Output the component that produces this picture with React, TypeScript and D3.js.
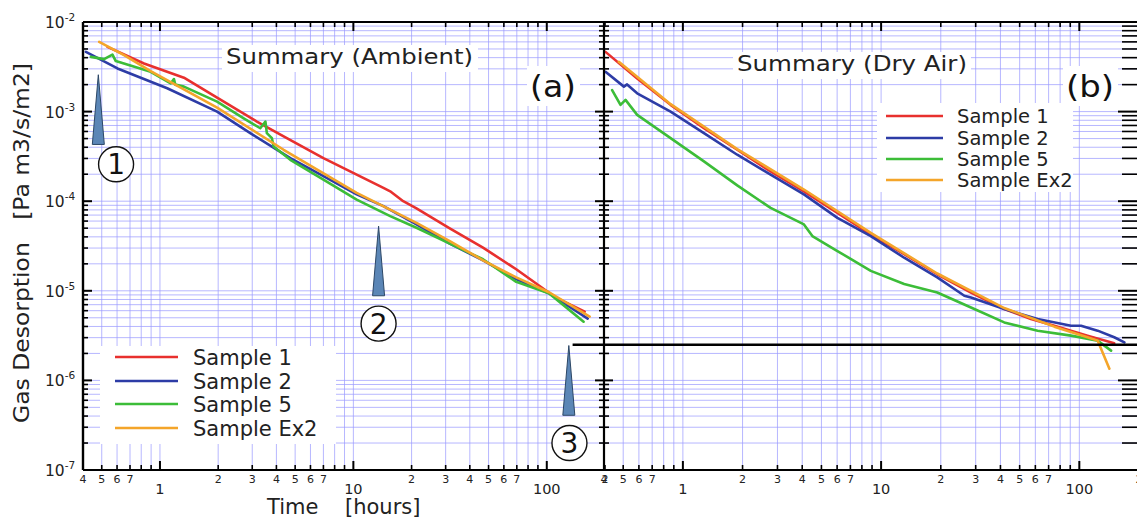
import React from "react";
import * as d3 from "d3";

type Pt = [number, number];

// ---------- DATA (hours, Pa m3/s/m2) ----------
const ambientSample1: Pt[] = [
  [0.535, 5.28e-3], [0.827, 3.44e-3], [1.33, 2.39e-3], [1.974, 1.43e-3], [3.17, 7.74e-4],
  [4.36, 5.28e-4], [7.0, 3.03e-4], [9.62, 2.15e-4], [14.3, 1.41e-4], [15.5, 1.29e-4],
  [18.1, 1.0e-4], [21.2, 8.3e-5], [31.5, 4.97e-5], [46.8, 3.03e-5], [69.5, 1.74e-5],
  [111.7, 8.36e-6], [157, 5.84e-6],
];
const ambientSample2: Pt[] = [
  [0.414, 4.64e-3], [0.603, 3.03e-3], [1.09, 1.82e-3], [1.974, 1.0e-3], [2.93, 5.74e-4],
  [4.72, 3.03e-4], [7.0, 1.9e-4], [10.4, 1.19e-4], [14.3, 8.8e-5], [21.2, 5.51e-5],
  [31.5, 3.36e-5], [46.8, 2.19e-5], [69.5, 1.35e-5], [103.3, 9.3e-6], [162.7, 4.89e-6],
];
const ambientSample5: Pt[] = [
  [0.439, 4.08e-3], [0.514, 3.85e-3], [0.568, 4.33e-3], [0.591, 3.66e-3], [0.895, 2.78e-3],
  [1.136, 2.06e-3], [1.181, 2.31e-3], [1.2, 2.0e-3], [1.33, 1.9e-3], [1.974, 1.29e-3],
  [2.71, 8.42e-4], [3.3, 6.52e-4], [3.51, 7.74e-4], [3.57, 5.74e-4], [3.79, 5.05e-4],
  [3.87, 4.08e-4], [4.72, 2.9e-4], [7.0, 1.74e-4], [10.4, 1.04e-4], [15.5, 6.81e-5],
  [21.2, 5.05e-5], [31.5, 3.36e-5], [46.8, 2.25e-5], [69.5, 1.26e-5], [103.3, 9.3e-6],
  [155, 4.52e-6],
];
const ambientSampleEx2: Pt[] = [
  [0.485, 6.0e-3], [0.652, 4.27e-3], [0.895, 2.83e-3], [1.974, 1.11e-3], [4.36, 3.75e-4],
  [10.4, 1.24e-4], [21.2, 5.74e-5], [31.5, 3.59e-5], [46.8, 2.19e-5], [69.5, 1.41e-5],
  [103.3, 9.57e-6], [166.6, 5.14e-6],
];

const drySample1: Pt[] = [
  [0.407, 4.64e-3], [0.588, 2.34e-3], [0.867, 1.19e-3], [1.277, 6.52e-4], [1.88, 3.75e-4],
  [2.77, 2.15e-4], [4.08, 1.29e-4], [6.02, 7.41e-5], [8.87, 4.27e-5], [13.07, 2.56e-5],
  [19.2, 1.53e-5], [28.4, 9.57e-6], [41.8, 6.26e-6], [57.0, 4.85e-6], [74.8, 4.08e-6],
  [110, 3.16e-6], [150, 2.6e-6],
];
const drySample2: Pt[] = [
  [0.407, 2.78e-3], [0.504, 1.9e-3], [0.523, 2.01e-3], [0.588, 1.6e-3], [0.867, 1.0e-3],
  [1.277, 5.74e-4], [1.88, 3.3e-4], [2.77, 1.98e-4], [4.08, 1.19e-4], [6.02, 6.52e-5],
  [8.87, 4.08e-5], [13.07, 2.34e-5], [19.2, 1.41e-5], [26.3, 8.8e-6], [28.4, 8.42e-6],
  [41.8, 6.26e-6], [61.6, 4.85e-6], [90.8, 4.08e-6], [102, 4.08e-6], [123.7, 3.59e-6],
  [150, 3.03e-6], [168.8, 2.66e-6],
];
const drySample5: Pt[] = [
  [0.4395, 1.74e-3], [0.4845, 1.19e-3], [0.5136, 1.35e-3], [0.588, 9.19e-4], [0.867, 5.05e-4],
  [1.277, 2.78e-4], [1.88, 1.5e-4], [2.77, 8.42e-5], [4.08, 5.51e-5], [4.5, 4.08e-5],
  [6.02, 2.78e-5], [8.87, 1.67e-5], [13.07, 1.19e-5], [19.2, 9.57e-6], [28.4, 6.52e-6],
  [41.8, 4.44e-6], [61.6, 3.59e-6], [90.8, 3.16e-6], [123.7, 2.78e-6], [144.6, 2.15e-6],
];
const drySampleEx2: Pt[] = [
  [0.475, 3.59e-3], [0.867, 1.21e-3], [1.88, 3.81e-4], [4.08, 1.35e-4], [8.87, 4.44e-5],
  [19.2, 1.56e-5], [41.8, 6.42e-6], [74.8, 3.98e-6], [110, 3.03e-6], [123.7, 2.78e-6],
  [128.7, 2.25e-6], [141.8, 1.35e-6],
];

const seriesNames = ["Sample 1", "Sample 2", "Sample 5", "Sample Ex2"];
const seriesColors = ["#e8302e", "#2d3ca6", "#3cbd38", "#f4a52a"];
const ambientSeries = [ambientSample1, ambientSample2, ambientSample5, ambientSampleEx2];
const drySeries = [drySample1, drySample2, drySample5, drySampleEx2];

const xDomain: [number, number] = [0.4, 200];
const yDomain: [number, number] = [1e-7, 1e-2];
const xMajorLabels = [1, 10, 100];
const xFirstDecadeDigits = [4, 5, 6, 7];
const xMinorLabelDigits = [2, 3, 4, 5, 6, 7];
const yDecadeExponents = [-2, -3, -4, -5, -6, -7];

const thresholdLevel = 2.5e-6;
const thresholdStartHours = 136;

// markers in ambient panel
const markerTimes = [0.48, 13.5, 130];
const markerTipValues = [2.58e-3, 5.27e-5, 2.45e-6];
const markerBaseValues = [4.3e-4, 8.8e-6, 4.08e-7];
const markerLabelTimes = [0.593, 13.5, 131];
const markerLabelValues = [2.58e-4, 4.3e-6, 2.0e-7];
const markerLabels = ["1", "2", "3"];

// ---------- LAYOUT ----------
const W = 1137;
const H = 520;
const TOP = 22;
const BOTTOM = 470;
const L0 = 83;
const MID = 604;
const R1 = 1139;
const FONT = "'DejaVu Sans', 'Open Sans', sans-serif";
const INK = "#222";
const GRID = "#9a9aff";

const yScale = d3.scaleLog().domain(yDomain).range([BOTTOM, TOP]);
const xLeft = d3.scaleLog().domain(xDomain).range([L0, 605]);
const xRight = d3.scaleLog().domain(xDomain).range([MID, R1]);

function allTicks(lo: number, hi: number): number[] {
  const out: number[] = [];
  for (let e = Math.floor(Math.log10(lo)); e <= Math.ceil(Math.log10(hi)); e++) {
    for (let k = 1; k <= 9; k++) {
      const v = k * Math.pow(10, e);
      if (v >= lo * 0.9999 && v <= hi * 1.0001) out.push(+v.toPrecision(3));
    }
  }
  return out;
}
const isMajor = (v: number) => Math.abs(Math.log10(v) - Math.round(Math.log10(v))) < 1e-6;

const xTicks = allTicks(xDomain[0], xDomain[1]);
const yTicks = allTicks(yDomain[0], yDomain[1]);

function Panel({
  xs, x0, x1, series, clipId,
}: {
  xs: d3.ScaleLogarithmic<number, number>;
  x0: number;
  x1: number;
  series: Pt[][];
  clipId: string;
}) {
  const line = d3
    .line<Pt>()
    .x((d) => xs(d[0]))
    .y((d) => yScale(d[1]));
  return (
    <g>
      <defs>
        <clipPath id={clipId}>
          <rect x={x0} y={TOP} width={x1 - x0} height={BOTTOM - TOP} />
        </clipPath>
      </defs>
      <g clipPath={`url(#${clipId})`}>
        {xTicks.map((t, i) => (
          <line key={"gx" + i} x1={xs(t)} x2={xs(t)} y1={TOP} y2={BOTTOM}
            stroke={GRID} strokeWidth={0.9} strokeOpacity={0.8} />
        ))}
        {yTicks.map((v, i) => (
          <line key={"gy" + i} x1={x0} x2={x1} y1={yScale(v)} y2={yScale(v)}
            stroke={GRID} strokeWidth={0.9} strokeOpacity={0.8} />
        ))}
        {series.map((s, i) => (
          <path key={"s" + i} d={line(s) || ""} fill="none" stroke={seriesColors[i]}
            strokeWidth={2.6} strokeLinejoin="round" strokeLinecap="round" />
        ))}
      </g>
      {xTicks.map((t, i) => {
        const len = isMajor(t) ? 9 : 5;
        const x = xs(t);
        return (
          <g key={"xt" + i}>
            <line x1={x} x2={x} y1={BOTTOM} y2={BOTTOM - len} stroke="#000" strokeWidth={isMajor(t) ? 2 : 1.6} />
            <line x1={x} x2={x} y1={TOP} y2={TOP + len} stroke="#000" strokeWidth={isMajor(t) ? 2 : 1.6} />
          </g>
        );
      })}
      {xFirstDecadeDigits.map((d) => (
        <text key={"l1" + d} x={xs(d / 10)} y={483} fontSize={11} textAnchor="middle" fill={INK} fontFamily={FONT}>
          {d}
        </text>
      ))}
      {[1, 10].map((m) =>
        xMinorLabelDigits.map((d) => (
          <text key={"lm" + m + d} x={xs(d * m)} y={483} fontSize={11} textAnchor="middle" fill={INK} fontFamily={FONT}>
            {d}
          </text>
        ))
      )}
      <text x={xs(200)} y={483} fontSize={11} textAnchor="middle" fill={INK} fontFamily={FONT}>2</text>
      {xMajorLabels.map((m) => (
        <text key={"mj" + m} x={xs(m)} y={494} fontSize={14.5} textAnchor="middle" fill={INK} fontFamily={FONT}>
          {m}
        </text>
      ))}
    </g>
  );
}

export default function App() {
  const yL = yScale;
  return (
    <svg width={W} height={H} style={{ position: "absolute", left: 0, top: 0, background: "#fff" }}
      xmlns="http://www.w3.org/2000/svg">
      <rect x={0} y={0} width={W} height={H} fill="#fff" />
      <Panel xs={xLeft} x0={L0} x1={MID} series={ambientSeries} clipId="clipA" />
      <Panel xs={xRight} x0={MID} x1={R1} series={drySeries} clipId="clipB" />

      <line x1={L0} x2={R1} y1={TOP} y2={TOP} stroke="#000" strokeWidth={2} />
      <line x1={L0} x2={R1} y1={BOTTOM} y2={BOTTOM} stroke="#000" strokeWidth={2.2} />
      <line x1={L0} x2={L0} y1={TOP} y2={BOTTOM} stroke="#000" strokeWidth={2.4} />
      <line x1={MID} x2={MID} y1={TOP} y2={BOTTOM} stroke="#000" strokeWidth={2.2} />
      <line x1={R1} x2={R1} y1={TOP} y2={BOTTOM} stroke="#000" strokeWidth={2.2} />

      {yTicks.map((v, i) => {
        const len = isMajor(v) ? 9 : 5;
        const y = yL(v);
        const sw = isMajor(v) ? 2 : 1.6;
        return (
          <g key={"yt" + i}>
            <line x1={L0} x2={L0 + len} y1={y} y2={y} stroke="#000" strokeWidth={sw} />
            <line x1={MID - len} x2={MID + len} y1={y} y2={y} stroke="#000" strokeWidth={sw} />
            <line x1={R1 - len - 12} x2={R1} y1={y} y2={y} stroke="#000" strokeWidth={sw} />
          </g>
        );
      })}
      {yDecadeExponents.map((e) => (
        <text key={"yl" + e} x={45} y={yL(Math.pow(10, e)) + 6} fontFamily={FONT} fill={INK} fontSize={15.5}>
          10
          <tspan dy={-7} fontSize={10.5}>{String(e)}</tspan>
        </text>
      ))}

      <line x1={xLeft(thresholdStartHours)} x2={R1} y1={yL(thresholdLevel)} y2={yL(thresholdLevel)}
        stroke="#000" strokeWidth={2.6} />

      <rect x={222} y={45} width={256} height={27} fill="#fff" />
      <text x={226} y={64} fontSize={21} fill={INK} fontFamily={FONT} textLength={247} lengthAdjust="spacingAndGlyphs">
        Summary (Ambient)
      </text>
      <rect x={527} y={66} width={53} height={40} fill="#fff" />
      <text x={530} y={97} fontSize={31} fill="#111" fontFamily={FONT} textLength={46} lengthAdjust="spacingAndGlyphs">(a)</text>
      <rect x={733} y={52} width={238} height={27} fill="#fff" />
      <text x={737} y={71} fontSize={21} fill={INK} fontFamily={FONT} textLength={230} lengthAdjust="spacingAndGlyphs">
        Summary (Dry Air)
      </text>
      <rect x={1063} y={66} width={55} height={40} fill="#fff" />
      <text x={1066} y={97} fontSize={31} fill="#111" fontFamily={FONT} textLength={48} lengthAdjust="spacingAndGlyphs">(b)</text>

      <rect x={100} y={346} width={236} height={98} fill="#fff" />
      {seriesNames.map((n, i) => {
        const y = [357, 381, 404, 428][i];
        return (
          <g key={"lgA" + i}>
            <line x1={115} x2={178} y1={y} y2={y} stroke={seriesColors[i]} strokeWidth={2.6} />
            <text x={193} y={y + 8} fontSize={21} fill={INK} fontFamily={FONT}>{n}</text>
          </g>
        );
      })}
      <rect x={877} y={103} width={196} height={89} fill="#fff" />
      {seriesNames.map((n, i) => {
        const y = [116, 138, 159, 180][i];
        return (
          <g key={"lgB" + i}>
            <line x1={886} x2={943} y1={y} y2={y} stroke={seriesColors[i]} strokeWidth={2.6} />
            <text x={957} y={y + 7} fontSize={19.5} fill={INK} fontFamily={FONT}>{n}</text>
          </g>
        );
      })}

      {markerTimes.map((t, i) => {
        const x = xLeft(t);
        const yt = yL(markerTipValues[i]);
        const yb = yL(markerBaseValues[i]);
        const cx = xLeft(markerLabelTimes[i]);
        const cy = yL(markerLabelValues[i]);
        return (
          <g key={"mk" + i}>
            <path d={`M${x},${yt} L${x + 6},${yb} L${x - 6},${yb} Z`} fill="#5b86b6" stroke="#2c4766" strokeWidth={1} />
            <circle cx={cx} cy={cy} r={17.5} fill="#fff" stroke="#111" strokeWidth={1.4} />
            <text x={cx} y={cy + 10} fontSize={28} textAnchor="middle" fill="#111" fontFamily={FONT}>
              {markerLabels[i]}
            </text>
          </g>
        );
      })}

      <text x={267} y={514} fontSize={21} fill={INK} fontFamily={FONT}>Time</text>
      <text x={345} y={514} fontSize={21} fill={INK} fontFamily={FONT}>[hours]</text>
      <text transform="translate(29,243) rotate(-90)" textAnchor="middle" fontSize={22} fill={INK} fontFamily={FONT}
        textLength={360} lengthAdjust="spacingAndGlyphs" style={{ whiteSpace: "pre" }}>
        {"Gas Desorption   [Pa m3/s/m2]"}
      </text>
    </svg>
  );
}
